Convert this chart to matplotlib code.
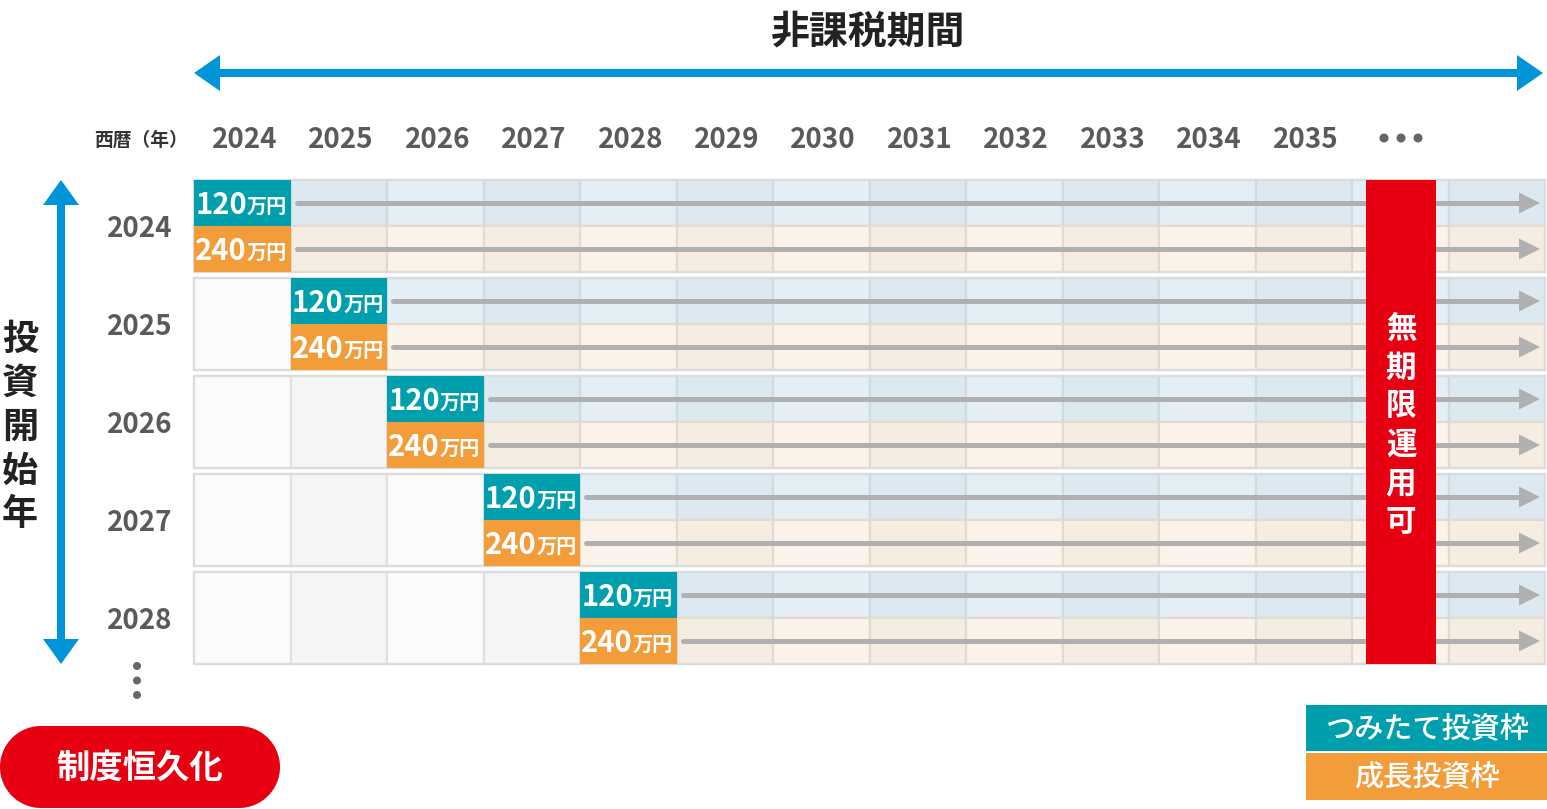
import matplotlib
matplotlib.use("Agg")
import matplotlib.pyplot as plt
from matplotlib.patches import Rectangle, Polygon, Circle

plt.rcParams['font.family'] = ['Noto Sans CJK JP', 'DejaVu Sans']

# データ
calendar_years = [2024, 2025, 2026, 2027, 2028, 2029, 2030, 2031, 2032, 2033, 2034, 2035]
start_years = [2024, 2025, 2026, 2027, 2028]
tsumitate_limit = 120  # 万円
seicho_limit = 240  # 万円
unit = "万円"
title = "非課税期間"
axis_label = "西暦（年）"
left_label = "投資開始年"
red_label = "無期限運用可"
pill_label = "制度恒久化"
legend_labels = ["つみたて投資枠", "成長投資枠"]

# 色
TEAL = "#009fae"
ORANGE = "#f39c3a"
RED = "#e60012"
BLUE = "#0095d9"
ARROW_GRAY = "#b0b0b0"
TEXT_GRAY = "#5a5a5a"

# レイアウト (ピクセル)
W, H = 1547, 809
X0 = 194
COL_W = 96.5
N_COLS = 14
Y0 = 180
ROW_H = 92
HALF = ROW_H / 2
PITCH = 98
PX = 0.72  # px -> pt

fig = plt.figure(figsize=(W / 100, H / 100), dpi=100)
ax = fig.add_axes([0, 0, 1, 1])
ax.set_xlim(0, W)
ax.set_ylim(H, 0)
ax.axis("off")

# タイトル
ax.text(868, 32, title, ha="center", va="center", fontsize=28, fontweight="bold", color="#222222")

# 上の青い両矢印
ay = 73
ax.plot([215, 1522], [ay, ay], color=BLUE, lw=8 * PX, solid_capstyle="butt")
ax.add_patch(Polygon([[X0, ay], [X0 + 26, ay - 18], [X0 + 26, ay + 18]], closed=True, color=BLUE, lw=0))
ax.add_patch(Polygon([[1543, ay], [1517, ay - 18], [1517, ay + 18]], closed=True, color=BLUE, lw=0))

# 西暦ラベル
ax.text(141, 140, axis_label, ha="center", va="center", fontsize=13.5, fontweight="bold", color="#333333")
for i, yr in enumerate(calendar_years):
    cx = X0 + (i + 0.5) * COL_W + 2
    ax.text(cx, 140, str(yr), ha="center", va="center", fontsize=20, fontweight="bold", color=TEXT_GRAY)
for k in range(3):
    ax.add_patch(Circle((1384 + k * 17, 138), 4.5, color="#666666", lw=0))

# 表
for r, sy in enumerate(start_years):
    top = Y0 + r * PITCH
    start_col = calendar_years.index(sy)
    for c in range(N_COLS):
        x = X0 + c * COL_W
        odd = c % 2 == 1
        if c < start_col:
            ax.add_patch(Rectangle((x, top), COL_W, ROW_H, facecolor="#f5f5f5" if odd else "#fbfbfb",
                                   edgecolor="#e0e0e0", lw=2.2 * PX, zorder=1))
        elif c == start_col:
            ax.add_patch(Rectangle((x, top), COL_W, HALF, facecolor=TEAL, lw=0, zorder=3))
            ax.add_patch(Rectangle((x, top + HALF), COL_W, HALF, facecolor=ORANGE, lw=0, zorder=3))
            for k, val in enumerate([tsumitate_limit, seicho_limit]):
                by = top + k * HALF + 34
                ax.text(x + 53, by, str(val), ha="right", va="baseline", fontsize=21,
                        fontweight="bold", color="white", zorder=4)
                ax.text(x + 53, by - 1, unit, ha="left", va="baseline", fontsize=14.5,
                        fontweight="bold", color="white", zorder=4)
        else:
            ax.add_patch(Rectangle((x, top), COL_W, HALF, facecolor="#dde9f0" if odd else "#e3eff5",
                                   edgecolor="#cfdbe2", lw=2.2 * PX, zorder=1))
            ax.add_patch(Rectangle((x, top + HALF), COL_W, HALF, facecolor="#f6ede2" if odd else "#fbf3ea",
                                   edgecolor="#e3dacd", lw=2.2 * PX, zorder=1))
    # 外枠
    ax.add_patch(Rectangle((X0, top), N_COLS * COL_W, ROW_H, facecolor="none",
                           edgecolor="#dcdcdc", lw=2.2 * PX, zorder=2))
    # 灰色の矢印
    x_start = X0 + (start_col + 1) * COL_W + 6
    for k in range(2):
        yy = top + k * HALF + 23
        ax.plot([x_start, 1521], [yy, yy], color=ARROW_GRAY, lw=5 * PX, solid_capstyle="round", zorder=3)
        ax.add_patch(Polygon([[1540, yy], [1519, yy - 10.5], [1519, yy + 10.5]], closed=True,
                             color=ARROW_GRAY, lw=0, zorder=3))
    # 左の年ラベル
    ax.text(140, top + 49, str(sy), ha="center", va="center", fontsize=20, fontweight="bold", color=TEXT_GRAY)

# 下の省略記号
for k in range(3):
    ax.add_patch(Circle((137, 666 + k * 14.5), 4, color="#666666", lw=0))

# 左の縦矢印
vx = 61
y_top = Y0
y_bot = Y0 + (len(start_years) - 1) * PITCH + ROW_H
ax.plot([vx, vx], [y_top + 20, y_bot - 20], color=BLUE, lw=8 * PX, solid_capstyle="butt")
ax.add_patch(Polygon([[vx, y_top], [vx - 18, y_top + 25], [vx + 18, y_top + 25]], closed=True, color=BLUE, lw=0))
ax.add_patch(Polygon([[vx, y_bot], [vx - 18, y_bot - 25], [vx + 18, y_bot - 25]], closed=True, color=BLUE, lw=0))

# 投資開始年
for k, ch in enumerate(left_label):
    ax.text(20, 339 + k * 44, ch, ha="center", va="center", fontsize=26, fontweight="bold", color="#222222")

# 無期限運用可
ax.add_patch(Rectangle((1366, y_top), 70, y_bot - y_top, facecolor=RED, lw=0, zorder=5))
for k, ch in enumerate(red_label):
    ax.text(1401, 329 + k * 38.5, ch, ha="center", va="center", fontsize=22, fontweight="bold",
            color="white", zorder=6)

# 凡例
ax.add_patch(Rectangle((1306, 705), 241, 46, facecolor=TEAL, lw=0))
ax.add_patch(Rectangle((1306, 753), 241, 47, facecolor=ORANGE, lw=0))
ax.text(1427, 729, legend_labels[0], ha="center", va="center", fontsize=21, color="white", fontweight="medium")
ax.text(1427, 777, legend_labels[1], ha="center", va="center", fontsize=21, color="white", fontweight="medium")

# 制度恒久化 (丸いピル形)
pr = 41
pc_y = 767
ax.add_patch(Rectangle((pr, pc_y - pr), 280 - 2 * pr, 2 * pr, facecolor=RED, lw=0))
ax.add_patch(Circle((pr, pc_y), pr, facecolor=RED, lw=0))
ax.add_patch(Circle((280 - pr, pc_y), pr, facecolor=RED, lw=0))
ax.text(140, 768, pill_label, ha="center", va="center", fontsize=24, fontweight="bold", color="white")

fig.savefig("out.png", dpi=100)
